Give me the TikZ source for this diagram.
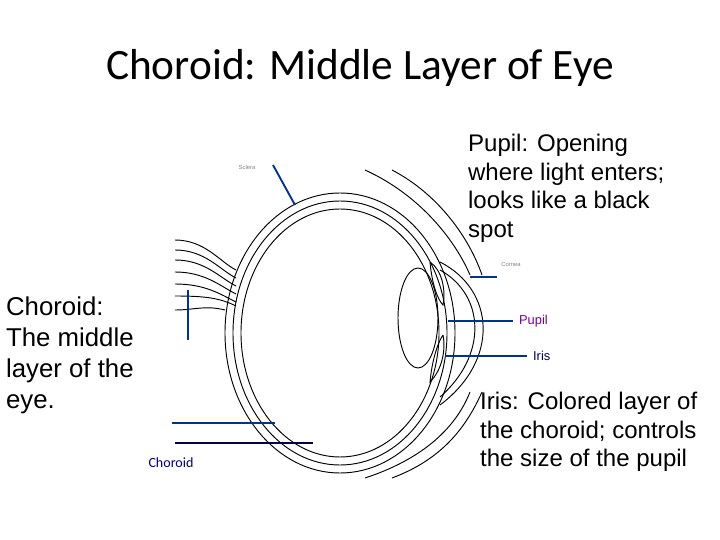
\documentclass[tikz,border=0pt]{standalone}
\usepackage{fontspec}
\setmainfont{Liberation Sans}
\newfontfamily\calibri{Carlito}
\begin{document}
\begin{tikzpicture}[x=0.03cm,y=-0.03cm]
\tikzset{
  pointer/.style={line width=1.6pt, draw=blue!45!black!80!cyan},
  eyeline/.style={line width=0.8pt, draw=black},
  bigtext/.style={anchor=north west, align=left, font=\fontsize{20.5}{24.5}\selectfont},
  smalllabel/.style={font=\fontsize{11}{12}\selectfont}
}
% Set the page
\useasboundingbox (0,0) rectangle (720,540);

% Title
\node[font=\calibri\fontsize{37}{40}\selectfont] (title) at (360,68) {Choroid: Middle Layer of Eye};

% Eyeball layers
\draw[eyeline] (340,333) ellipse (115 and 140);
\draw[eyeline] (340,333) ellipse (107 and 132);
\draw[eyeline] (340,333) ellipse (99 and 124);
% Cornea
\draw[eyeline] (440,262) .. controls (495,290) and (500,360) .. (440,405);
\draw[eyeline] (440,270) .. controls (485,295) and (488,355) .. (440,397);
% Lens
\draw[eyeline] (418,318) ellipse (20 and 50);
% Iris
\draw[eyeline] (430,262) .. controls (442,270) and (446,290) .. (443,305) .. controls (438,300) and (432,285) .. (430,262);
\draw[eyeline] (443,335) .. controls (446,350) and (442,370) .. (430,382) .. controls (432,360) and (438,342) .. (443,335);
% Optic nerve
\foreach \y/\e in {240/262,250/270,260/278,272/286,284/294,296/298} {
  \draw[eyeline] (175,\y) .. controls (205,\y) and (220,\e) .. (236,\e+8);
}
\draw[eyeline] (175,310) .. controls (195,310) and (205,305) .. (225,310);
% Eyelids
\draw[eyeline] (365,170) .. controls (420,195) and (455,240) .. (470,275);
\draw[eyeline] (392,170) .. controls (440,195) and (470,240) .. (482,275);
\draw[eyeline] (470,392) .. controls (455,430) and (420,460) .. (365,478);
\draw[eyeline] (482,392) .. controls (465,430) and (440,460) .. (392,478);

% Pointer lines
\draw[pointer] (273,165) -- (295,205);
\draw[pointer] (470,277) -- (497,277);
\draw[pointer] (448,321) -- (513,321);
\draw[pointer] (445,356) -- (527,356);
\draw[pointer] (188,290) -- (188,340);
\draw[pointer] (172,423) -- (275,423);
\draw[line width=1.6pt, draw=blue!30!black] (175,443) -- (313,443);

% Small labels
\node[smalllabel, font=\tiny, gray] (sclera) at (247,167) {Sclera};
\node[smalllabel, font=\tiny, gray] (cornea) at (511,264) {Cornea};
\node[smalllabel, purple!60!blue, anchor=west] (pupil) at (515,321) {Pupil};
\node[smalllabel, blue!40!black, anchor=west] (iris) at (529,356) {Iris};
\node[font=\calibri\fontsize{12}{14}\selectfont, blue!50!black] (choroid) at (171,463) {Choroid};

% Big labels
\node[bigtext] (pupiltext) at (464,130) {Pupil: Opening\\where light enters;\\looks like a black\\spot};
\node[bigtext, font=\fontsize{22}{26.5}\selectfont] (choroidtext) at (2,293) {Choroid:\\The middle\\layer of the\\eye.};
\node[bigtext] (iristext) at (476,388) {Iris: Colored layer of\\the choroid; controls\\the size of the pupil};
\end{tikzpicture}
\end{document}
